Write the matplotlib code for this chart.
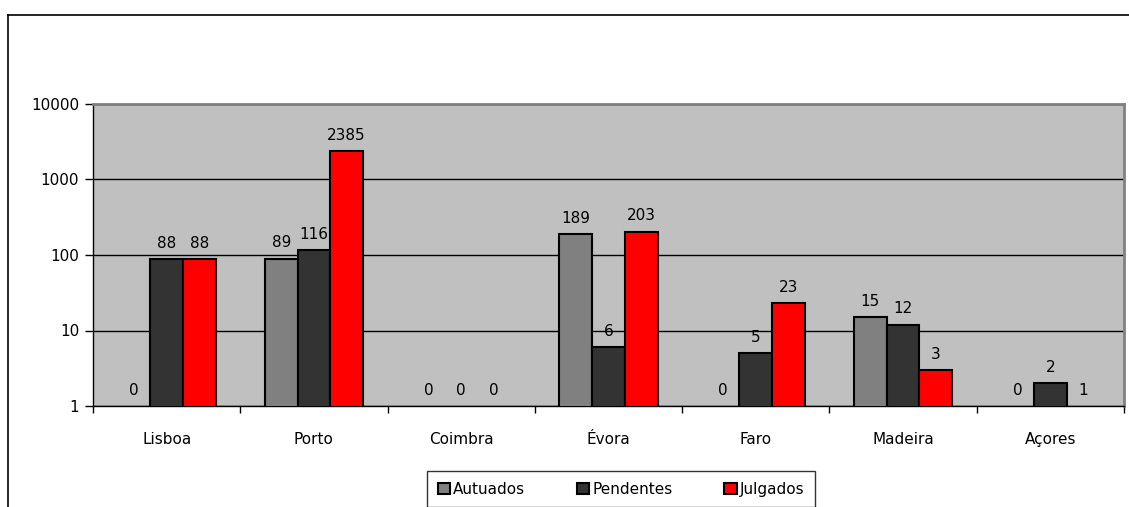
import numpy as np
import matplotlib.pyplot as plt
from matplotlib.lines import Line2D
from matplotlib.ticker import FixedLocator, NullLocator, NullFormatter

regions = ['Lisboa', 'Porto', 'Coimbra', 'Évora', 'Faro', 'Madeira', 'Açores']
autuados = [0, 89, 0, 189, 0, 15, 0]
pendentes = [88, 116, 0, 6, 5, 12, 2]
julgados = [88, 2385, 0, 203, 23, 3, 1]

series = [('Autuados', autuados, '#808080'),
          ('Pendentes', pendentes, '#333333'),
          ('Julgados', julgados, '#ff0000')]

plt.rcParams['font.family'] = 'DejaVu Sans'
plt.rcParams['font.size'] = 11

fig = plt.figure(figsize=(11.29, 5.07), dpi=100)
W, H = 1129, 507
ax = fig.add_axes([93 / W, 1 - 406 / H, (1124 - 93) / W, (406 - 104) / H])
ax.set_facecolor('#c0c0c0')

x = np.arange(len(regions)) + 0.5
w = 0.222
for i, (name, vals, col) in enumerate(series):
    pos = x + (i - 1) * w
    vals = np.array(vals, dtype=float)
    # on a log axis values of 0 and 1 leave no visible bar
    shown = np.where(vals > 1, vals, np.nan)
    ax.bar(pos, shown, width=w, bottom=0, color=col, edgecolor='black',
           linewidth=1.5, label=name, zorder=3)
    for p, v in zip(pos, vals):
        top = v if v > 1 else 1
        ax.annotate(f'{int(v)}', (p, top), xytext=(0, 6), textcoords='offset points',
                    ha='center', va='bottom', fontsize=11, zorder=4)

ax.set_yscale('log')
ax.set_ylim(1, 10000)
ax.set_xlim(0, len(regions))
ax.yaxis.set_major_locator(FixedLocator([1, 10, 100, 1000, 10000]))
ax.yaxis.set_minor_locator(NullLocator())
ax.set_yticklabels(['1', '10', '100', '1000', '10000'])
ax.grid(axis='y', color='black', linewidth=1, zorder=1)
ax.set_axisbelow(True)

ax.set_xticks(x)
ax.set_xticklabels(regions)
ax.set_xticks(np.arange(len(regions) + 1), minor=True)
ax.xaxis.set_minor_formatter(NullFormatter())
ax.tick_params(axis='x', which='major', length=0, pad=19)
ax.tick_params(axis='x', which='minor', length=5, width=1, direction='out')
ax.tick_params(axis='y', length=6, width=1, direction='out', pad=4)

for s in ['left', 'bottom']:
    ax.spines[s].set_color('black')
    ax.spines[s].set_linewidth(1)
for s in ['top', 'right']:
    ax.spines[s].set_color('#808080')
    ax.spines[s].set_linewidth(2)

# outer chart frame (cut off at right and bottom)
fig.add_artist(Line2D([8 / W, 8 / W], [0, 1 - 15 / H], color='black', lw=1.2))
fig.add_artist(Line2D([8 / W, 1], [1 - 15 / H, 1 - 15 / H], color='black', lw=1.2))

leg = fig.legend(loc='upper center', bbox_to_anchor=(621 / W, 1 - 471 / H), ncol=3,
                 frameon=True, fancybox=False, edgecolor='black', borderaxespad=0,
                 handlelength=0.8, handleheight=0.8, handletextpad=0.2,
                 columnspacing=3.4, borderpad=0.7, fontsize=11)
leg.get_frame().set_linewidth(1)

fig.savefig('out.png', dpi=100)
